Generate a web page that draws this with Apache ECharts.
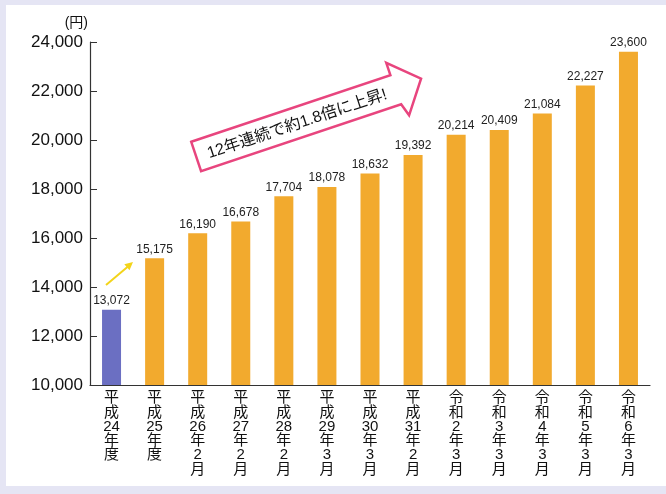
<!DOCTYPE html>
<html>
<head>
<meta charset="utf-8">
<script src="https://cdn.jsdelivr.net/npm/echarts@6/dist/echarts.min.js"></script>
<style>
html,body{margin:0;padding:0;}
body{background:#e5e5f4;width:666px;height:494px;position:relative;overflow:hidden;}
#panel{position:absolute;left:6px;top:5px;width:660px;height:481px;background:#fff;}
#chart{position:absolute;left:0;top:0;width:666px;height:494px;}
</style>
</head>
<body>
<div id="panel"></div>
<div id="chart"></div>
<script>
const categories = ['平成24年度','平成25年度','平成26年2月','平成27年2月','平成28年2月','平成29年3月','平成30年3月','平成31年2月','令和2年3月','令和3年3月','令和4年3月','令和5年3月','令和6年3月'];
const values = [13072,15175,16190,16678,17704,18078,18632,19392,20214,20409,21084,22227,23600];
const yTicks = {min:10000, max:24000, interval:2000};
const unitLabel = '(円)';
const annotation = '12年連続で約1.8倍に上昇!';

const FONT = '"Liberation Sans", Arial, "Noto Sans CJK JP", sans-serif';
const fmt = v => String(v).replace(/\B(?=(\d{3})+(?!\d))/g, ',');

const chart = echarts.init(document.getElementById('chart'), null, {renderer:'canvas'});
const deg = Math.PI/180;
chart.setOption({
  backgroundColor:'transparent',
  animation:false,
  grid:{left:90, right:16, top:42, bottom:109},
  xAxis:{
    type:'category', data:categories,
    axisLine:{lineStyle:{color:'#333', width:1.2}},
    axisTick:{inside:true, length:5, lineStyle:{color:'#333'}},
    axisLabel:{
      interval:0, margin:6, color:'#111', fontSize:15, lineHeight:14.3, fontFamily:FONT,
      verticalAlign:'top',
      formatter: v => v.match(/\d+|./g).join('\n')
    }
  },
  yAxis:{
    type:'value', min:yTicks.min, max:yTicks.max, interval:yTicks.interval,
    name:unitLabel, nameLocation:'end', nameGap:12,
    nameTextStyle:{color:'#111', fontSize:14, fontFamily:FONT, align:'right', padding:[0,2,0,0]},
    axisLine:{show:true, lineStyle:{color:'#333', width:1.2}},
    axisTick:{show:true, inside:true, length:7, lineStyle:{color:'#333'}},
    splitLine:{show:false},
    axisLabel:{color:'#111', fontSize:17, fontFamily:FONT, margin:7, formatter: v => fmt(v)}
  },
  series:[{
    type:'bar', data:values, barWidth:19,
    itemStyle:{color: p => p.dataIndex === 0 ? '#6b6fc2' : '#f2aa2e'},
    label:{show:true, position:'top', distance:3, color:'#222', fontSize:12, fontFamily:FONT, formatter: p => fmt(p.value)}
  }],
  graphic:[
    {
      type:'group', x:196, y:156, rotation:18.5*deg,
      children:[
        {type:'polygon', shape:{points:[[0,-15],[210,-15],[210,-28],[238,-2],[215,29],[211,16],[0,16]]},
         style:{fill:'#fff', stroke:'#e8457e', lineWidth:2.5, lineJoin:'miter'}},
        {type:'text', x:106, y:2, style:{text:annotation, font:'16px '+FONT, fill:'#111', align:'center', verticalAlign:'middle'}}
      ]
    },
    {type:'line', shape:{x1:106, y1:285, x2:128, y2:266.5}, style:{stroke:'#f3d41a', lineWidth:2}},
    {type:'polygon', shape:{points:[[133,262],[129.5,270.2],[124.3,264.2]]}, style:{fill:'#f3d41a'}}
  ]
});
</script>
</body>
</html>
